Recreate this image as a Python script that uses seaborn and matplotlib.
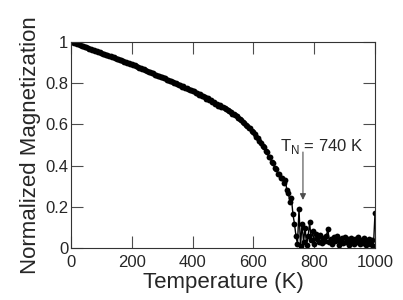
import matplotlib
matplotlib.use("Agg")
import matplotlib.pyplot as plt
import seaborn as sns
import pandas as pd

temperature_K = [
    0, 5, 10, 15, 20, 25, 30, 35, 40, 45, 50, 55, 60, 65, 70, 75, 80, 85, 90, 95,
    100, 105, 110, 115, 120, 125, 130, 135, 140, 145, 150, 155, 160, 165, 170, 175, 180, 185, 190, 195,
    200, 205, 210, 215, 220, 225, 230, 235, 240, 245, 250, 255, 260, 265, 270, 275, 280, 285, 290, 295,
    300, 305, 310, 315, 320, 325, 330, 335, 340, 345, 350, 355, 360, 365, 370, 375, 380, 385, 390, 395,
    400, 405, 410, 415, 420, 425, 430, 435, 440, 445, 450, 455, 460, 465, 470, 475, 480, 485, 490, 495,
    500, 505, 510, 515, 520, 525, 530, 535, 540, 545, 550, 555, 560, 565, 570, 575, 580, 585, 590, 595,
    600, 605, 610, 615, 620, 625, 630, 635, 640, 645, 650, 655, 660, 665, 670, 675, 680, 685, 690, 695,
    700, 705, 710, 715, 720, 725, 730, 735, 740, 745, 750, 755, 760, 765, 770, 775, 780, 785, 790, 795,
    800, 805, 810, 815, 820, 825, 830, 835, 840, 845, 850, 855, 860, 865, 870, 875, 880, 885, 890, 895,
    900, 905, 910, 915, 920, 925, 930, 935, 940, 945, 950, 955, 960, 965, 970, 975, 980, 985, 990, 995,
    1000,
]

magnetization = [
    1.000, 0.998, 0.995, 0.993, 0.989, 0.987, 0.984, 0.981, 0.979, 0.975,
    0.973, 0.971, 0.967, 0.965, 0.962, 0.959, 0.957, 0.953, 0.951, 0.949,
    0.946, 0.942, 0.941, 0.937, 0.935, 0.931, 0.930, 0.926, 0.924, 0.920,
    0.918, 0.916, 0.912, 0.910, 0.907, 0.904, 0.901, 0.899, 0.895, 0.893,
    0.890, 0.886, 0.885, 0.880, 0.879, 0.874, 0.872, 0.868, 0.866, 0.861,
    0.860, 0.855, 0.854, 0.848, 0.847, 0.841, 0.840, 0.834, 0.833, 0.829,
    0.828, 0.822, 0.823, 0.815, 0.817, 0.810, 0.808, 0.806, 0.800, 0.801,
    0.794, 0.792, 0.790, 0.783, 0.785, 0.777, 0.776, 0.772, 0.766, 0.768,
    0.761, 0.760, 0.753, 0.752, 0.744, 0.745, 0.737, 0.735, 0.731, 0.724,
    0.726, 0.717, 0.716, 0.709, 0.707, 0.700, 0.699, 0.691, 0.692, 0.683,
    0.684, 0.678, 0.676, 0.668, 0.665, 0.661, 0.652, 0.652, 0.643, 0.640,
    0.633, 0.624, 0.622, 0.611, 0.607, 0.598, 0.594, 0.583, 0.580, 0.566,
    0.562, 0.552, 0.538, 0.535, 0.518, 0.512, 0.495, 0.490, 0.470, 0.466,
    0.442, 0.440, 0.418, 0.412, 0.390, 0.385, 0.362, 0.360, 0.338, 0.342,
    0.318, 0.330, 0.282, 0.268, 0.225, 0.245, 0.165, 0.120, 0.060, 0.020,
    0.190, 0.010, 0.120, 0.030, 0.100, 0.015, 0.060, 0.125, 0.040, 0.085,
    0.020, 0.070, 0.045, 0.030, 0.065, 0.025, 0.050, 0.035, 0.060, 0.092,
    0.030, 0.045, 0.020, 0.055, 0.035, 0.060, 0.015, 0.040, 0.050, 0.025,
    0.055, 0.030, 0.045, 0.015, 0.050, 0.035, 0.020, 0.045, 0.030, 0.055,
    0.020, 0.040, 0.025, 0.050, 0.015, 0.035, 0.045, 0.020, 0.040, 0.010,
    0.170,
]

x_ticks = [0, 200, 400, 600, 800, 1000]
y_ticks = [0, 0.2, 0.4, 0.6, 0.8, 1]
x_tick_labels = ["0", "200", "400", "600", "800", "1000"]
y_tick_labels = ["0", "0.2", "0.4", "0.6", "0.8", "1"]
annotation_text = r"T$_\mathregular{N}$ = 740 K"
neel_T = 763

df = pd.DataFrame({"T": temperature_K, "M": magnetization})

sns.set_style("ticks")
plt.rcParams["font.family"] = ["Liberation Sans", "DejaVu Sans"]
plt.rcParams["mathtext.fontset"] = "custom"
plt.rcParams["mathtext.rm"] = "Liberation Sans"

fig = plt.figure(figsize=(4.03, 3.0), dpi=100)
ax = fig.add_axes([71 / 403, 1 - 248.3 / 300, (375 - 71) / 403, (248.3 - 41.7) / 300])

sns.lineplot(data=df, x="T", y="M", ax=ax, color="black", linewidth=1.0,
             marker="o", markersize=4.2, markeredgewidth=0, sort=False)

ax.set_xlim(0, 1000)
ax.set_ylim(0, 1)
ax.set_xticks(x_ticks)
ax.set_xticklabels(x_tick_labels)
ax.set_yticks(y_ticks)
ax.set_yticklabels(y_tick_labels)

ax.tick_params(direction="in", length=8.5, width=0.8, color="0.3",
               top=True, right=True, labelsize=12, pad=2)
ax.tick_params(axis="x", pad=5)
for s in ax.spines.values():
    s.set_linewidth(0.8)
    s.set_color("0.2")
    s.set_visible(True)

ax.set_xlabel("Temperature (K)", fontsize=16, labelpad=1)
ax.set_ylabel("Normalized Magnetization", fontsize=16, labelpad=3)

ax.annotate("", xy=(neel_T, 0.234), xytext=(neel_T, 0.466),
            arrowprops=dict(arrowstyle="-|>", color="0.3", lw=0.8,
                            mutation_scale=9, shrinkA=0, shrinkB=0))
ax.text(826, 0.495, annotation_text, ha="center", va="center", fontsize=12)

fig.savefig("out.png", dpi=100)
